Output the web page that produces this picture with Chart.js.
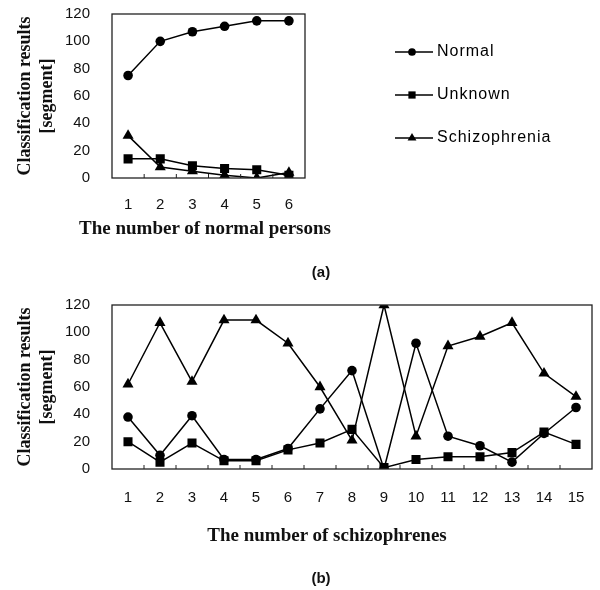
<!DOCTYPE html>
<html>
<head>
<meta charset="utf-8">
<script src="https://cdn.jsdelivr.net/npm/chart.js@4.4.1/dist/chart.umd.min.js"></script>
<style>
  body { margin: 0; background: #fff; width: 600px; height: 590px; position: relative; overflow: hidden; }
  canvas { position: absolute; left: 0; }
  .txt { position: absolute; white-space: nowrap; color: #111; transform: translate(-50%, -50%); }
  .cap { font: bold 15px "Liberation Sans", Arial, sans-serif; }
  .xt { font: bold 19px "Liberation Serif", "Times New Roman", serif; }
</style>
</head>
<body>
<canvas id="chartA" width="600" height="250" style="top:0"></canvas>
<div class="txt xt" style="left:205px;top:228px">The number of normal persons</div>
<div class="txt cap" style="left:321px;top:271px">(a)</div>
<canvas id="chartB" width="600" height="260" style="top:290px"></canvas>
<div class="txt xt" style="left:327px;top:535px">The number of schizophrenes</div>
<div class="txt cap" style="left:321px;top:577px">(b)</div>

<script>
// values
const personLabels = ['1', '2', '3', '4', '5', '6'];
const normalA  = [75, 100, 107, 111, 115, 115];
const unknownA = [14, 14, 9, 7, 6, 2];
const schizoA  = [31, 8, 5, 2, 0, 4];

const patientLabels = ['1', '2', '3', '4', '5', '6', '7', '8', '9', '10', '11', '12', '13', '14', '15'];
const normalB  = [38, 10, 39, 7, 7, 15, 44, 72, 0, 92, 24, 17, 5, 26, 45];
const unknownB = [20, 5, 19, 6, 6, 14, 19, 29, 1, 7, 9, 9, 12, 27, 18];
const schizoB  = [62, 107, 64, 109, 109, 92, 60, 21, 120, 24, 90, 97, 107, 70, 53];

const yTicks = [0, 20, 40, 60, 80, 100, 120];

const tickFont = { family: '"Liberation Sans", Arial, sans-serif', size: 15 };
const titleFont = { family: '"Liberation Serif", "Times New Roman", serif', size: 18, weight: 'bold', lineHeight: 1.25 };

function makeSets(n, u, s) {
  const base = { borderColor: '#000', backgroundColor: '#000', borderWidth: 1.5, pointBorderWidth: 0, tension: 0 };
  return [
    { ...base, label: 'Normal', data: n, pointStyle: 'circle', pointRadius: 4.8 },
    { ...base, label: 'Unknown', data: u, pointStyle: 'rect', pointRadius: 6.4 },
    { ...base, label: 'Schizophrenia', data: s, pointStyle: 'triangle', pointRadius: 6.4 }
  ];
}

// box around the plot, small inner ticks, and the line-marker legend
const framePlugin = {
  id: 'frame',
  afterDraw(chart, args, opts) {
    const { ctx, chartArea: a } = chart;
    ctx.save();
    ctx.strokeStyle = '#222';
    ctx.lineWidth = 1.3;
    ctx.strokeRect(a.left, a.top, a.right - a.left, a.bottom - a.top);
    const n = chart.data.labels.length;
    const step = (a.right - a.left) / n;
    ctx.lineWidth = 1;
    ctx.beginPath();
    for (let i = 1; i < n; i++) {
      const x = a.left + i * step;
      ctx.moveTo(x, a.bottom);
      ctx.lineTo(x, a.bottom - 4);
    }
    ctx.stroke();

    if (opts.legend) {
      const L = opts.legend;
      chart.data.datasets.forEach((ds, i) => {
        const y = L.y + i * L.gap;
        ctx.strokeStyle = '#000';
        ctx.fillStyle = '#000';
        ctx.lineWidth = 1.3;
        ctx.beginPath();
        ctx.moveTo(L.x, y);
        ctx.lineTo(L.x + 38, y);
        ctx.stroke();
        Chart.helpers.drawPoint(ctx, { pointStyle: ds.pointStyle, radius: ds.pointRadius * 0.8, rotation: 0, borderWidth: 0 }, L.x + 17, y);
        ctx.font = '16px "Liberation Sans", Arial, sans-serif';
        ctx.letterSpacing = '1px';
        ctx.textBaseline = 'middle';
        ctx.textAlign = 'left';
        ctx.fillText(ds.label, L.x + 42, y);
      });
    }
    ctx.restore();
  }
};

function makeChart(id, labels, sets, cfg) {
  return new Chart(document.getElementById(id), {
    type: 'line',
    data: { labels: labels, datasets: sets },
    plugins: [framePlugin],
    options: {
      responsive: false,
      animation: false,
      layout: { padding: cfg.padding },
      plugins: {
        legend: { display: false },
        tooltip: { enabled: false },
        frame: { legend: cfg.legend }
      },
      scales: {
        x: {
          offset: true,
          grid: { display: false },
          border: { display: false },
          ticks: { color: '#111', font: tickFont, padding: cfg.xPad, maxRotation: 0, autoSkip: false },
          afterFit(scale) { scale.height = cfg.xHeight; scale.paddingLeft = 0; scale.paddingRight = 0; }
        },
        y: {
          min: 0,
          max: 120,
          afterBuildTicks(scale) { scale.ticks = yTicks.map(v => ({ value: v })); },
          grid: { display: false },
          border: { display: false },
          ticks: { color: '#111', font: tickFont, padding: 14 },
          title: {
            display: true,
            text: ['Classification results', '[segment]'],
            color: '#111',
            font: titleFont,
            padding: { top: 14, bottom: 0 }
          },
          afterFit(scale) { scale.width = 112; scale.paddingTop = 0; scale.paddingBottom = 0; }
        }
      }
    }
  });
}

makeChart('chartA', personLabels, makeSets(normalA, unknownA, schizoA), {
  padding: { top: 14, right: 295, left: 0, bottom: 0 },
  xHeight: 72,
  xPad: 10,
  legend: { x: 395, y: 52, gap: 43 }
});

makeChart('chartB', patientLabels, makeSets(normalB, unknownB, schizoB), {
  padding: { top: 15, right: 8, left: 0, bottom: 0 },
  xHeight: 81,
  xPad: 12,
  legend: null
});
</script>
</body>
</html>
